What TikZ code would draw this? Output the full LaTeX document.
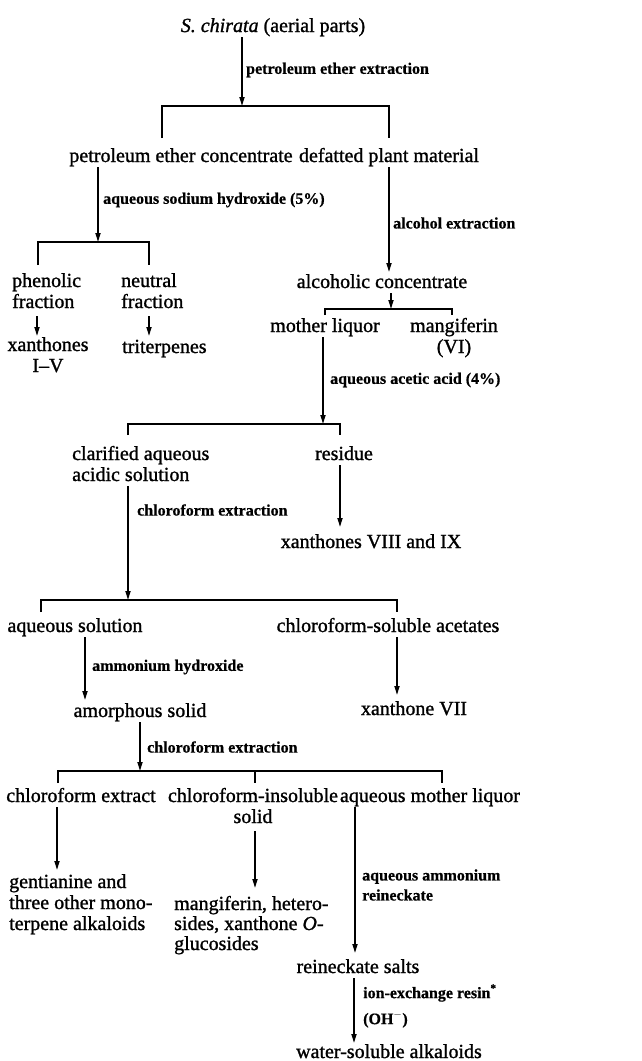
\documentclass[tikz,border=0pt]{standalone}
\usepackage{fontspec}
\setmainfont{Liberation Serif}[FakeBold=1.2]
\newfontfamily\lblfont{Liberation Serif Bold}[FakeBold=0.6]
\usetikzlibrary{arrows.meta}
\begin{document}
\begin{tikzpicture}[x=1pt,y=-1pt,
  one/.style={font=\fontsize{20}{21}\selectfont, inner sep=1pt, anchor=base, text height=14pt, text depth=4pt},
  multi/.style={font=\fontsize{20}{21}\selectfont, inner sep=0pt, align=left},
  lbl/.style={font=\lblfont\fontsize{16}{20}\selectfont, inner sep=0pt, anchor=west, align=left},
  ln/.style={line width=1.7pt},
  arr/.style={line width=1.7pt, -{Triangle[length=9pt,width=5pt]}},
]
\useasboundingbox (0,0) rectangle (641,1061);

% nodes (multi-line nodes are placed by the baseline of their last line)
\node[one] (title) at (273,32) {\textit{S. chirata} (aerial parts)};
\node[one] (pec) at (181,162) {petroleum ether concentrate};
\node[one] (dpm) at (389,162) {defatted plant material};
\node[multi, anchor=base west] (phen) at (12,308) {phenolic\\fraction};
\node[multi, anchor=base west] (neut) at (121,308) {neutral\\fraction};
\node[multi, anchor=base, align=center] (xan) at (48,372) {xanthones\\I--V};
\node[one, anchor=base west] (tri) at (121,353) {triterpenes};
\node[one] (alc) at (382,288) {alcoholic concentrate};
\node[one] (ml) at (325,332) {mother liquor};
\node[multi, anchor=base, align=center] (mang) at (454,353) {mangiferin\\(VI)};
\node[multi, anchor=base west] (cla) at (72,481) {clarified aqueous\\acidic solution};
\node[one] (res) at (344,460) {residue};
\node[one] (x89) at (371,548) {xanthones VIII and IX};
\node[one] (aqs) at (75,632) {aqueous solution};
\node[one] (csa) at (388,632) {chloroform-soluble acetates};
\node[one] (amo) at (140,717) {amorphous solid};
\node[one] (x7) at (414,715) {xanthone VII};
\node[one] (cfe) at (81,802) {chloroform extract};
\node[multi, anchor=base, align=center] (cis) at (253,823) {chloroform-insoluble\\solid};
\node[one] (aml) at (430,802) {aqueous mother liquor};
\node[multi, anchor=base west] (gen) at (9,930) {gentianine and\\three other mono-\\terpene alkaloids};
\node[multi, anchor=base west, font=\fontsize{20}{20}\selectfont] (mgl) at (174,950) {mangiferin, hetero-\\sides, xanthone \textit{O}-\\glucosides};
\node[one] (rs) at (358,973) {reineckate salts};
\node[one] (wsa) at (389,1058) {water-soluble alkaloids};

% labels
\node[lbl] (l1) at (246,70) {petroleum ether extraction};
\node[lbl] (l2) at (103,200) {aqueous sodium hydroxide (5\%)};
\node[lbl] (l3) at (393,223) {alcohol extraction};
\node[lbl] (l4) at (330,380) {aqueous acetic acid (4\%)};
\node[lbl] (l5) at (137,510) {chloroform extraction};
\node[lbl] (l6) at (92,667) {ammonium hydroxide};
\node[lbl] (l7) at (147,747) {chloroform extraction};
\node[lbl] (l8) at (362,885) {aqueous ammonium\\reineckate};
\node[lbl] (l9) at (363,1006) {ion-exchange resin\textsuperscript{*}\\[6pt](OH\textsuperscript{$-$})};

% junction coordinates
\coordinate (j1) at (242,106);
\coordinate (j2) at (98,242);
\coordinate (j3) at (389,272);
\coordinate (j4) at (37,336);
\coordinate (j5) at (149,336);
\coordinate (j6) at (391,309);
\coordinate (j7) at (323,424);
\coordinate (j8) at (128,600);
\coordinate (j9) at (340,527);
\coordinate (j10) at (85,700);
\coordinate (j11) at (397,695);
\coordinate (j12) at (140,771);
\coordinate (j13) at (57,870);
\coordinate (j14) at (255,888);
\coordinate (j15) at (355,953);
\coordinate (j16) at (354,1043);

% bars
\draw[ln] (162,138) -- (162,106) -- (389,106) -- (389,138);
\draw[ln] (38,265) -- (38,242) -- (149,242) -- (149,265);
\draw[ln] (325,315) -- (325,309) -- (452,309) -- (452,315);
\draw[ln] (128,435) -- (128,424) -- (340,424) -- (340,435);
\draw[ln] (41,612) -- (41,600) -- (397,600) -- (397,612);
\draw[ln] (58,783) -- (58,771) -- (442,771) -- (442,783);
\draw[ln] (255,771) -- (255,783);

% arrows
\draw[arr] (title.south -| j1) -- (j1);
\draw[arr] (pec.south -| j2) -- (j2);
\draw[arr] (dpm.south -| j3) -- (j3);
\draw[arr] ([yshift=-8pt]phen.south -| j4) -- (j4);
\draw[arr] ([yshift=-8pt]neut.south -| j5) -- (j5);
\draw[arr] (alc.south -| j6) -- (j6);
\draw[arr] (ml.south -| j7) -- (j7);
\draw[arr] ([yshift=-5pt]cla.south -| j8) -- (j8);
\draw[arr] (res.south -| j9) -- (j9);
\draw[arr] (aqs.south -| j10) -- (j10);
\draw[arr] (csa.south -| j11) -- (j11);
\draw[arr] (amo.south -| j12) -- (j12);
\draw[arr] (cfe.south -| j13) -- (j13);
\draw[arr] ([yshift=-8pt]cis.south -| j14) -- (j14);
\draw[arr] (aml.south -| j15) -- (j15);
\draw[arr] (rs.south -| j16) -- (j16);
\end{tikzpicture}
\end{document}
